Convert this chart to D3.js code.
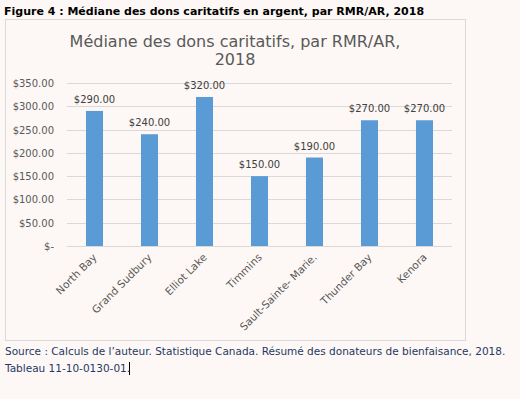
<!DOCTYPE html>
<html>
<head>
<meta charset="utf-8">
<script src="https://cdn.jsdelivr.net/npm/d3@7"></script>
<style>
  body { margin: 0; background: #fdf8f5; }
  svg { display: block; }
</style>
</head>
<body>
<div id="chart"></div>
<script>
// data
const cities = ["North Bay", "Grand Sudbury", "Elliot Lake", "Timmins", "Sault-Sainte- Marie.", "Thunder Bay", "Kenora"];
const medians = [290, 240, 320, 150, 190, 270, 270];
const yTicks = [0, 50, 100, 150, 200, 250, 300, 350];

const W = 520, H = 399;
const font = "'DejaVu Sans', sans-serif";

const svg = d3.select("#chart")
  .append("svg")
  .attr("width", W)
  .attr("height", H);

// figure heading
svg.append("text")
  .attr("x", 4)
  .attr("y", 15)
  .style("font-family", font)
  .style("font-weight", "bold")
  .style("font-size", "11px")
  .style("fill", "#000")
  .text("Figure 4 : Médiane des dons caritatifs en argent, par RMR/AR, 2018");

// chart frame
svg.append("rect")
  .attr("x", 5.5)
  .attr("y", 19.5)
  .attr("width", 460)
  .attr("height", 321)
  .attr("fill", "#fdf8f5")
  .attr("stroke", "#d9d9d9");

// chart title (two lines)
const title = svg.append("text")
  .attr("text-anchor", "middle")
  .style("font-family", font)
  .style("font-size", "16px")
  .style("fill", "#595959");
title.append("tspan").attr("x", 235).attr("y", 47).text("Médiane des dons caritatifs, par RMR/AR,");
title.append("tspan").attr("x", 235).attr("y", 65).text("2018");

// scales
const x = d3.scaleBand()
  .domain(cities)
  .range([67, 452])
  .paddingInner(0.69)
  .paddingOuter(0.345);

const y = d3.scaleLinear()
  .domain([0, 350])
  .range([246, 83]);

// gridlines
svg.append("g")
  .selectAll("line")
  .data(yTicks)
  .join("line")
  .attr("x1", 67)
  .attr("x2", 452)
  .attr("y1", d => Math.round(y(d)) + 0.5)
  .attr("y2", d => Math.round(y(d)) + 0.5)
  .attr("stroke", "#d9d9d9");

// y tick labels
svg.append("g")
  .selectAll("text")
  .data(yTicks)
  .join("text")
  .attr("x", 54)
  .attr("y", d => y(d) + 4)
  .attr("text-anchor", "end")
  .style("font-family", font)
  .style("font-size", "10px")
  .style("fill", "#595959")
  .text(d => d === 0 ? "$-" : "$" + d3.format(".2f")(d));

// bars
svg.append("g")
  .selectAll("rect")
  .data(medians)
  .join("rect")
  .attr("x", (d, i) => x(cities[i]))
  .attr("y", d => y(d))
  .attr("width", x.bandwidth())
  .attr("height", d => y(0) - y(d))
  .attr("fill", "#5b9bd5");

// value labels
svg.append("g")
  .selectAll("text")
  .data(medians)
  .join("text")
  .attr("x", (d, i) => x(cities[i]) + x.bandwidth() / 2)
  .attr("y", d => y(d) - 8)
  .attr("text-anchor", "middle")
  .style("font-family", font)
  .style("font-size", "10px")
  .style("fill", "#404040")
  .text(d => "$" + d3.format(".2f")(d));

// category labels, rotated
svg.append("g")
  .selectAll("text")
  .data(cities)
  .join("text")
  .attr("transform", d => `translate(${x(d) + x.bandwidth() / 2 + 3},${258}) rotate(-45)`)
  .attr("text-anchor", "end")
  .style("font-family", font)
  .style("font-size", "10.5px")
  .style("fill", "#595959")
  .text(d => d);

// source note
const src = svg.append("text")
  .style("font-family", font)
  .style("font-size", "10.5px")
  .style("fill", "#1f3864");
src.append("tspan").attr("x", 5).attr("y", 355).text("Source : Calculs de l’auteur. Statistique Canada. Résumé des donateurs de bienfaisance, 2018.");
src.append("tspan").attr("x", 5).attr("y", 372).text("Tableau 11-10-0130-01.");

// text cursor after the note
svg.append("line")
  .attr("x1", 129.5).attr("x2", 129.5)
  .attr("y1", 362).attr("y2", 375)
  .attr("stroke", "#000");
</script>
</body>
</html>
